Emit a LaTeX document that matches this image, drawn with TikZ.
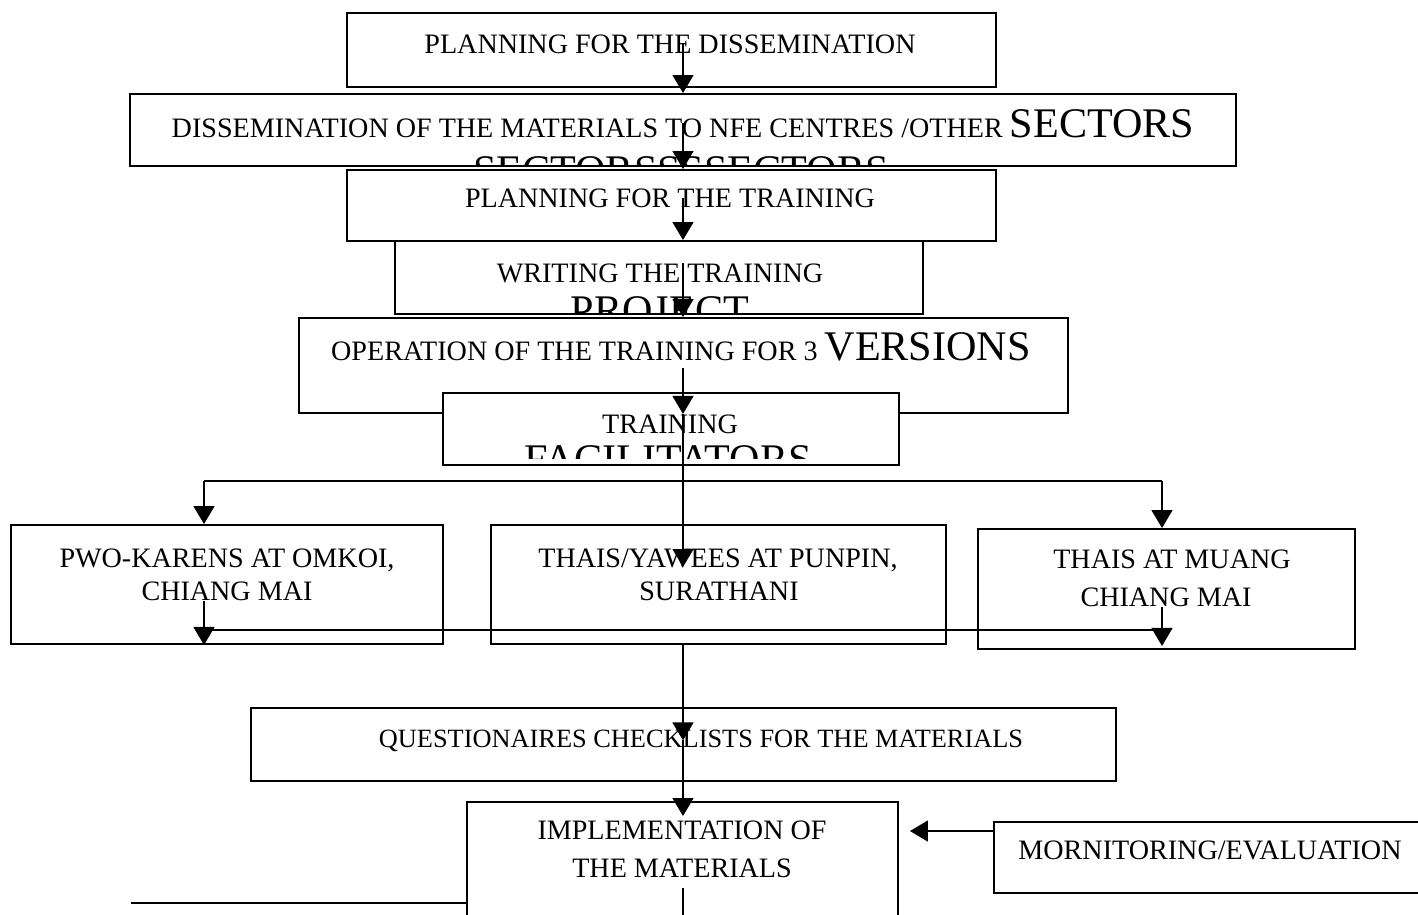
\documentclass[tikz,border=0pt]{standalone}
\usepackage{fontspec}
\setmainfont{Liberation Serif}
\usetikzlibrary{arrows.meta, fit}
\newcommand{\lrg}{\fontsize{24pt}{26pt}\selectfont}
\tikzset{
  box/.style={draw, fill=white, line width=1.1pt, inner sep=0pt},
  txt/.style={font=\fontsize{16pt}{18pt}\selectfont, inner sep=0pt, anchor=base},
  arr/.style={-{Triangle[length=0.36cm, width=0.42cm]}, line width=0.8pt},
  thk/.style={line width=1.6pt}
}
\begin{document}
\begin{tikzpicture}[x=0.02cm, y=-0.02cm]
        \clip (0,0) rectangle (1418,914);
        \fill[white] (0,0) rectangle (1418,914);
        \coordinate (sp) at (683,0);

        \node[box, fit={(347,13) (996,87)}] (plan) {};
        \node[box, fit={(130,94) (1236,166)}] (diss) {};
        \node[box, fit={(347,170) (996,241)}] (plantr) {};
        \node[box, fit={(395,241) (923,314)}] (write) {};
        \node[box, fit={(299,318) (1068,413)}] (oper) {};
        \node[box, fit={(443,393) (899,465)}] (train) {};
        \node[box, fit={(11,525) (443,644)}] (pwo) {};
        \node[box, fit={(491,525) (946,644)}] (thy) {};
        \node[box, fit={(978,529) (1355,649)}] (tmu) {};
        \node[box, fit={(251,708) (1116,781)}] (ques) {};
        \node[box, fit={(467,802) (898,940)}] (impl) {};
        \node[box, fit={(994,822) (1440,893)}] (mon) {};

        \node[txt] (plan-t) at (670,53) {PLANNING FOR THE DISSEMINATION};
        \node[txt] (diss-t) at (683,137) {DISSEMINATION OF THE MATERIALS TO NFE CENTRES /OTHER {\lrg SECTORS}};
        \begin{scope}
          \clip (diss.north west) rectangle ([yshift=0.05cm]diss.south east);
          \node[txt] (diss-x) at (681,184) {\lrg SECTORSSSSECTORS};
        \end{scope}
        \node[txt] (plantr-t) at (670,207) {PLANNING FOR THE TRAINING};
        \node[txt] (write-t) at (660,282) {WRITING THE TRAINING};
        \begin{scope}
          \clip (write.north west) rectangle (write.south east);
          \node[txt] (write-x) at (660,324) {\lrg PROJECT};
        \end{scope}
        \node[txt] (oper-t) at (681,360) {OPERATION OF THE TRAINING FOR 3 {\lrg VERSIONS}};
        \node[txt] (train-t) at (670,433) {TRAINING};
        \begin{scope}
          \clip (train.north west) rectangle ([yshift=0.14cm]train.south east);
          \node[txt] (train-x) at (668,473) {\lrg FACILITATORS};
        \end{scope}
        \node[txt] (pwo-a) at (227,567) {PWO-KARENS AT OMKOI,};
        \node[txt] (pwo-b) at (227,600) {CHIANG MAI};
        \node[txt] (thy-a) at (718,567) {THAIS/YAWEES AT PUNPIN,};
        \node[txt] (thy-b) at (719,600) {SURATHANI};
        \node[txt] (tmu-a) at (1172,568) {THAIS AT MUANG};
        \node[txt] (tmu-b) at (1166,606) {CHIANG MAI};
        \node[txt, font=\fontsize{15pt}{18pt}\selectfont] (ques-t) at (701,747) {QUESTIONAIRES CHECKLISTS FOR THE MATERIALS};
        \node[txt] (impl-a) at (682,839) {IMPLEMENTATION OF};
        \node[txt] (impl-b) at (682,877) {THE MATERIALS};
        \node[txt] (mon-t) at (1210,859) {MORNITORING/EVALUATION};

        \draw[arr] (plan-t.center -| sp) -- (diss.north -| sp);
        \draw[arr] (diss-t.center -| sp) -- (plantr.north -| sp);
        \draw[arr] (plantr-t.center -| sp) -- (write.north -| sp);
        \draw[arr] (write-t.north -| sp) -- (oper.north -| sp);
        \draw[arr] ([yshift=-0.15cm]oper-t.south -| sp) -- (oper.south -| sp);
        \draw[arr] (oper.south -| sp) -- (thy-a.base -| sp);

        \coordinate (bl) at (204,481);
        \coordinate (br) at (1162,481);
        \draw[thk] (bl) -- (br);
        \draw[arr] (bl) -- (bl |- pwo.north);
        \draw[arr] (br) -- (br |- tmu.north);

        \draw[line width=0.8pt] (bl |- 0,630) -- (br |- 0,630);
        \draw[arr] (pwo-b.south -| bl) -- (bl |- pwo.south);
        \draw[arr] (tmu-b.south -| br) -- ([yshift=0.08cm]br |- tmu.south);

        \draw[arr] (thy.south -| sp) -- (ques-t.center -| sp);
        \draw[arr] (ques-t.center -| sp) -- ([yshift=-0.3cm]impl.north -| sp);
        \draw[line width=0.8pt] ([yshift=-0.2cm]impl-b.south -| sp) -- (impl.south -| sp);
        \draw[arr] ([yshift=-0.2cm]mon.north west) -- ([yshift=-0.2cm, xshift=0.22cm]mon.north west -| impl.east);

        \coordinate (lo) at (131,903);
        \draw[thk] (lo) -- (lo -| impl.west);
\end{tikzpicture}
\end{document}
